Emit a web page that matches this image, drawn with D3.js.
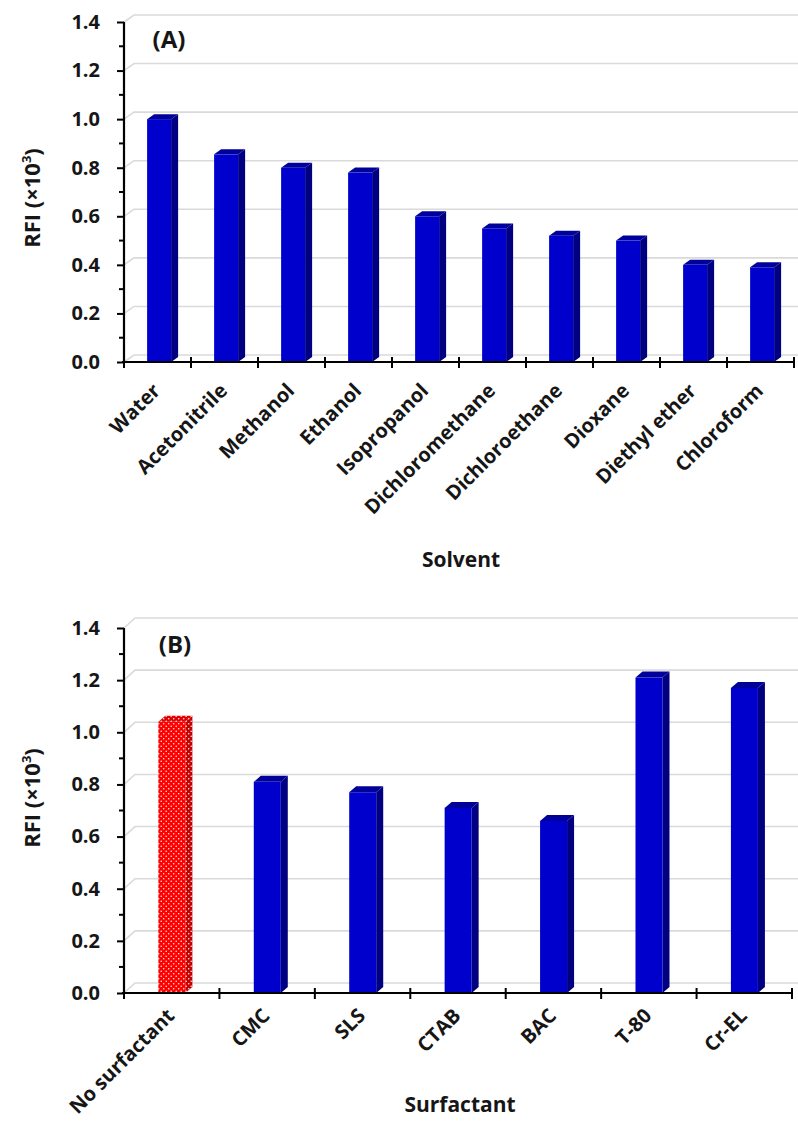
<!DOCTYPE html>
<html>
<head>
<meta charset="utf-8">
<script src="https://cdn.jsdelivr.net/npm/d3@7"></script>
<style>
  body { margin: 0; background: #fff; }
  text { font-family: "Open Sans", sans-serif; font-weight: bold; fill: #161616; }
</style>
</head>
<body>
<svg id="fig" width="798" height="1121"></svg>
<script>
// Relative fluorescence intensity (x10^3) by solvent and by surfactant
const solvents = ["Water", "Acetonitrile", "Methanol", "Ethanol", "Isopropanol",
  "Dichloromethane", "Dichloroethane", "Dioxane", "Diethyl ether", "Chloroform"];
const solventRFI = [1.00, 0.855, 0.80, 0.78, 0.60, 0.55, 0.52, 0.50, 0.40, 0.39];

const surfactants = ["No surfactant", "CMC", "SLS", "CTAB", "BAC", "T-80", "Cr-EL"];
const surfactantRFI = [1.04, 0.81, 0.77, 0.71, 0.66, 1.21, 1.17];

const yTickValues = [0, 0.2, 0.4, 0.6, 0.8, 1.0, 1.2, 1.4];
const yMinorValues = [0.1, 0.3, 0.5, 0.7, 0.9, 1.1, 1.3];

const svg = d3.select("#fig");

// dotted red fill for the reference (no surfactant) bar
const defs = svg.append("defs");
function dotPattern(id, bg) {
  const p = defs.append("pattern").attr("id", id)
    .attr("patternUnits", "userSpaceOnUse").attr("width", 5).attr("height", 5);
  p.append("rect").attr("width", 5).attr("height", 5).attr("fill", bg);
  p.append("circle").attr("cx", 1.2).attr("cy", 1.2).attr("r", 0.8).attr("fill", "#ffe6e6");
  p.append("circle").attr("cx", 3.7).attr("cy", 3.7).attr("r", 0.8).attr("fill", "#ffe6e6");
}
dotPattern("dotsFront", "#ff0000");
dotPattern("dotsSide", "#c40000");
dotPattern("dotsTop", "#e00000");

function drawPanel(cfg) {
  const g = svg.append("g");
  const x = d3.scaleBand().domain(cfg.cats).range([cfg.left, cfg.right]).padding(0);
  const y = d3.scaleLinear().domain([0, 1.4]).range([cfg.y0, cfg.y1]);
  const [wx, wy] = cfg.wall;
  const [bx, by] = cfg.depth;
  const bw = x.bandwidth();

  // back-wall gridlines
  const grid = g.append("g");
  yTickValues.forEach(v => {
    grid.append("path")
      .attr("d", `M${cfg.left},${y(v)} L${cfg.left + wx},${y(v) + wy} L798,${y(v) + wy}`)
      .attr("fill", "none").attr("stroke", "#dadada").attr("stroke-width", 1.6);
  });

  // 3D bars
  const bars = g.append("g").selectAll("g").data(cfg.cats.map((c, i) => ({ c, v: cfg.vals[i], i })))
    .join("g");
  bars.each(function (d) {
    const sel = d3.select(this);
    const xl = x(d.c) + bw * cfg.barOffset;
    const xr = xl + cfg.barW;
    const yt = y(d.v), yb = y(0);
    const red = cfg.highlight === d.i;
    sel.append("path")
      .attr("d", `M${xr},${yt} L${xr + bx},${yt + by} L${xr + bx},${yb + by} L${xr},${yb} Z`)
      .attr("fill", red ? "url(#dotsSide)" : "#000080");
    sel.append("path")
      .attr("d", `M${xl},${yt} L${xl + bx},${yt + by} L${xr + bx},${yt + by} L${xr},${yt} Z`)
      .attr("fill", red ? "url(#dotsTop)" : "#00009a");
    sel.append("rect")
      .attr("x", xl).attr("y", yt).attr("width", cfg.barW).attr("height", yb - yt)
      .attr("fill", red ? "url(#dotsFront)" : "#0000cc");
  });

  // y axis
  const yAxis = g.append("g").attr("transform", `translate(${cfg.left},0)`)
    .call(d3.axisLeft(y).tickValues(yTickValues).tickFormat(d3.format(".1f")).tickSize(7).tickPadding(17));
  yAxis.append("g").selectAll("line").data(yMinorValues).join("line")
    .attr("x1", -5).attr("x2", 0).attr("y1", d => y(d)).attr("y2", d => y(d))
    .attr("stroke", "#000").attr("stroke-width", 2);
  yAxis.select(".domain").attr("stroke", "#000").attr("stroke-width", 2.2)
    .attr("d", `M0,${cfg.y1}V${cfg.y0}`);
  yAxis.selectAll(".tick line").attr("stroke", "#000").attr("stroke-width", 2);
  yAxis.selectAll(".tick text").attr("font-size", 20).attr("fill", "#161616");

  // x axis with boundary ticks crossing the line
  const xAxis = g.append("g");
  xAxis.append("line").attr("x1", cfg.left - 2).attr("x2", cfg.right)
    .attr("y1", cfg.y0).attr("y2", cfg.y0).attr("stroke", "#000").attr("stroke-width", 2.2);
  const bounds = cfg.cats.map(c => x(c)).concat([cfg.right]);
  xAxis.selectAll("line.b").data(bounds).join("line").attr("class", "b")
    .attr("x1", d => d).attr("x2", d => d)
    .attr("y1", cfg.y0 - 5).attr("y2", cfg.y0 + 6)
    .attr("stroke", "#000").attr("stroke-width", 2);

  // rotated category labels
  xAxis.selectAll("text").data(cfg.cats).join("text")
    .attr("transform", d => `translate(${x(d) + bw / 2 + cfg.labelDx},${cfg.y0 + cfg.labelDy}) rotate(-45)`)
    .attr("text-anchor", "end")
    .attr("font-size", 20)
    .text(d => d);

  // axis titles and panel tag
  g.append("text").attr("x", cfg.xTitleX).attr("y", cfg.xTitleY)
    .attr("text-anchor", "middle").attr("font-size", 21).text(cfg.xTitle);
  const yl = g.append("text")
    .attr("transform", `translate(40,${cfg.yLabelY}) rotate(-90)`)
    .attr("text-anchor", "middle").attr("font-size", 22);
  yl.append("tspan").text("RFI (×10");
  yl.append("tspan").attr("font-size", 13).attr("dy", -9).text("3");
  yl.append("tspan").attr("dy", 9).text(")");
  g.append("text").attr("x", cfg.tagX).attr("y", cfg.tagY)
    .attr("text-anchor", "middle").attr("font-size", 24).text(cfg.tag);
}

drawPanel({
  cats: solvents, vals: solventRFI, highlight: -1,
  left: 124, right: 794, y0: 362, y1: 22,
  wall: [10, -7], depth: [7, -5],
  barOffset: 0.345, barW: 24,
  labelDx: 4, labelDy: 30,
  xTitle: "Solvent", xTitleX: 461, xTitleY: 567,
  yLabelY: 198, tag: "(A)", tagX: 169, tagY: 48
});

drawPanel({
  cats: surfactants, vals: surfactantRFI, highlight: 0,
  left: 124, right: 792, y0: 993, y1: 628,
  wall: [11, -10], depth: [7, -6],
  barOffset: 0.36, barW: 27,
  labelDx: 4, labelDy: 24,
  xTitle: "Surfactant", xTitleX: 460, xTitleY: 1112,
  yLabelY: 798, tag: "(B)", tagX: 175, tagY: 653
});
</script>
</body>
</html>
